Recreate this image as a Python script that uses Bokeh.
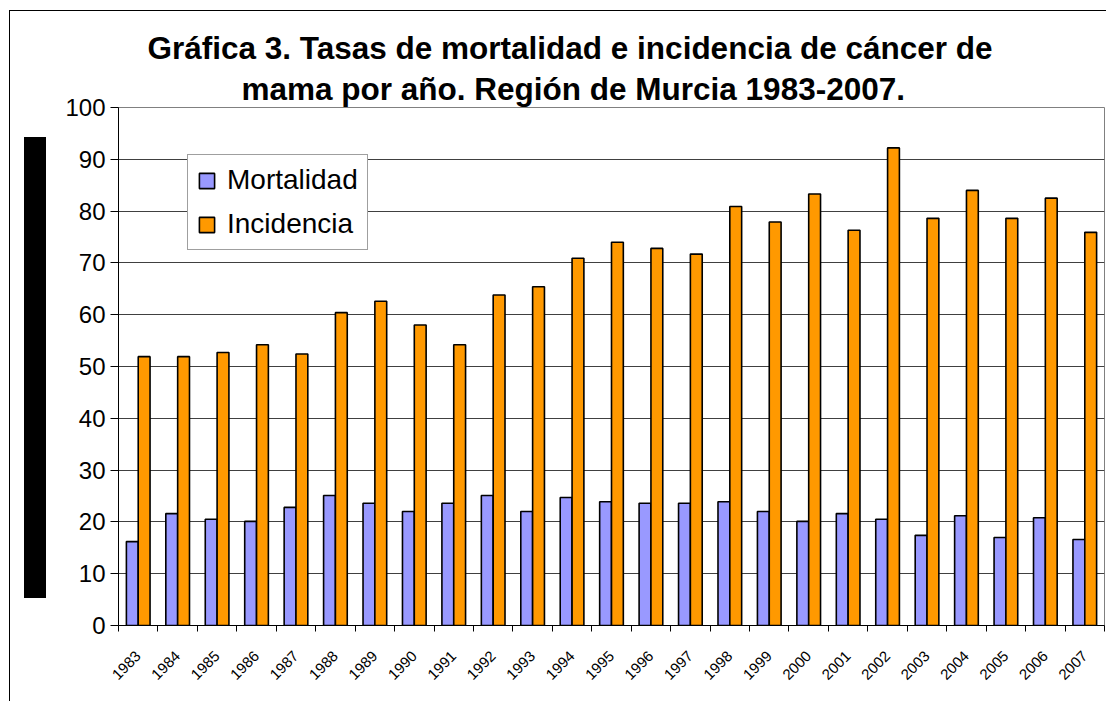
import math
from bokeh.plotting import figure
from bokeh.models import (ColumnDataSource, FixedTicker, Range1d, Legend, LegendItem,
                          Title, Label, InlineStyleSheet)
from bokeh.embed import file_html
from bokeh.resources import INLINE

years = [str(y) for y in range(1983, 2008)]
mortalidad = [16.2, 21.6, 20.5, 20.1, 22.8, 25.1, 23.6, 22.0, 23.6, 25.1, 22.0, 24.7, 23.9,
              23.6, 23.6, 23.9, 22.0, 20.1, 21.6, 20.5, 17.4, 21.2, 17.0, 20.8, 16.6]
incidencia = [51.9, 51.9, 52.7, 54.2, 52.4, 60.4, 62.6, 58.0, 54.2, 63.8, 65.4, 70.9, 74.0,
              72.8, 71.7, 80.9, 77.9, 83.3, 76.3, 92.2, 78.6, 84.0, 78.6, 82.5, 75.9]
title_lines = ["Gráfica 3. Tasas de mortalidad e incidencia de cáncer de",
               "mama por año. Región de Murcia 1983-2007."]

n = len(years)
centers = [i + 0.5 for i in range(n)]
src = ColumnDataSource(dict(
    xm=[c - 0.15 for c in centers], xi=[c + 0.15 for c in centers],
    m=mortalidad, inc=incidencia))

p = figure(width=1096, height=690, output_backend="svg", toolbar_location=None,
           x_range=Range1d(0, n), y_range=Range1d(0, 100),
           min_border_left=108, min_border_right=2, min_border_top=96, min_border_bottom=76)
p.margin = (11, 0, 0, 10)
p.styles = {"box-shadow": "0 0 0 1px black"}
# redacted (blacked-out) block left of the value axis
p.stylesheets = [InlineStyleSheet(css=(
    ":host { position: relative; }"
    ":host::after { content: ''; position: absolute; left: 14px; top: 126px;"
    " width: 22px; height: 461px; background: black; z-index: 5; pointer-events: none; }"))]
p.title.text = ""
p.add_layout(Title(text=title_lines[1], align="left", offset=123,
                   text_font="Liberation Sans", text_font_size="31.5px",
                   text_font_style="bold", text_color="black", standoff=2), "above")
p.add_layout(Title(text=title_lines[0], align="left", offset=29,
                   text_font="Liberation Sans", text_font_size="31.5px",
                   text_font_style="bold", text_color="black", standoff=4), "above")

rm = p.vbar(x="xm", top="m", width=0.3, source=src, fill_color="#9999FF",
            line_color="black", line_width=1.6)
ri = p.vbar(x="xi", top="inc", width=0.3, source=src, fill_color="#FF9900",
            line_color="black", line_width=1.6)

# axes
p.xaxis.ticker = FixedTicker(ticks=centers, minor_ticks=list(range(n + 1)))
p.xaxis.major_label_overrides = {c: y for c, y in zip(centers, years)}
p.xaxis.major_label_orientation = math.pi / 4
p.xaxis.major_label_text_font = "Liberation Sans"
p.xaxis.major_label_text_font_size = "15px"
p.xaxis.major_label_text_color = "black"
p.xaxis.major_tick_out = 0
p.xaxis.major_tick_in = 0
p.xaxis.minor_tick_out = 6
p.xaxis.minor_tick_in = 0
p.xaxis.minor_tick_line_color = "black"
p.xaxis.axis_line_color = "black"
p.xaxis.major_label_standoff = 22

p.yaxis.ticker = FixedTicker(ticks=list(range(0, 101, 10)))
p.yaxis.major_label_text_font = "Liberation Sans"
p.yaxis.major_label_text_font_size = "24px"
p.yaxis.major_label_text_color = "black"
p.yaxis.major_tick_out = 8
p.yaxis.major_tick_in = 0
p.yaxis.minor_tick_out = 0
p.yaxis.minor_tick_in = 0
p.yaxis.axis_line_color = "black"
p.yaxis.major_tick_line_color = "black"
p.yaxis.major_label_standoff = 5

p.xgrid.visible = False
p.ygrid.grid_line_color = "#404040"
p.ygrid.grid_line_width = 1
p.ygrid.ticker = FixedTicker(ticks=list(range(0, 101, 10)))
p.outline_line_color = "#808080"
p.outline_line_width = 1

legend = Legend(items=[LegendItem(label="Mortalidad", renderers=[rm]),
                       LegendItem(label="Incidencia", renderers=[ri])],
                location=(69, 375), label_text_font="Liberation Sans",
                label_text_font_size="28px", label_text_color="black",
                glyph_width=19, glyph_height=19, label_height=19, spacing=12,
                padding=9, label_standoff=11, border_line_color="#404040",
                border_line_width=1, background_fill_color="white",
                background_fill_alpha=1, margin=0)
p.add_layout(legend, "center")

open("out.html", "w").write(file_html(p, INLINE))
